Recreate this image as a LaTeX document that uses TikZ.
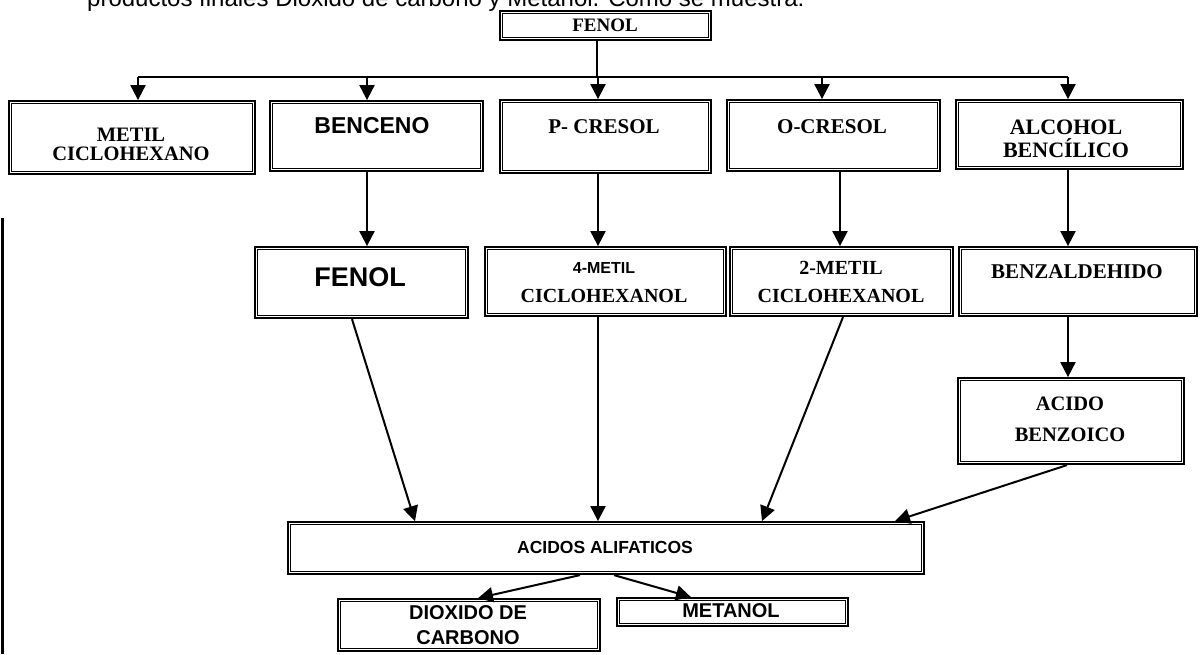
\documentclass[tikz,border=0pt]{standalone}
\usepackage{fontspec}
\setmainfont{Liberation Serif}
\newfontfamily\arialf{Liberation Sans}
\usetikzlibrary{arrows.meta}
\tikzset{
  dbox/.style={draw, line width=2.2pt, inner sep=0pt, anchor=north west},
  inbox/.style={draw, line width=1.1pt},
  ln/.style={line width=2pt},
  conn/.style={line width=2pt, -{Triangle[width=15pt,length=15pt]}},
  tms/.style={font=\fontsize{#1}{#1}\selectfont\bfseries, align=center, inner sep=0pt},
  tms/.default=20,
  ari/.style={font=\arialf\fontsize{#1}{#1}\selectfont\bfseries, align=center, inner sep=0pt},
  ari/.default=19,
}
\newcommand\mybox[5]{%
  \node[dbox, minimum width={#4pt-#2pt-2.2pt}, minimum height={#5pt-#3pt-2.2pt}] (#1) at ({#2+1.1},{#3+1.1}) {};
  \draw[inbox] ([shift={(3.6pt,-3.6pt)}]#1.north west) rectangle ([shift={(-3.6pt,3.6pt)}]#1.south east);}
\begin{document}
\begin{tikzpicture}[x=1pt,y=-1pt]
\useasboundingbox (0,0) rectangle (1200,654);
\clip (0,0) rectangle (1200,654);
\fill[white] (0,0) rectangle (1200,654);
% cut-off heading line
\node[anchor=base west, inner sep=0pt, font=\arialf\fontsize{24}{24}\selectfont] (head) at (87,6) {productos finales Dióxido de carbono y Metanol. Como se muestra:};
% left bar
\coordinate (bar1) at (2,218);
\coordinate (bar2) at (2,654);
\draw[line width=3pt] (bar1) -- (bar2);
% boxes
\mybox{t0}{498}{9}{711}{40}
\mybox{m1}{7}{99}{255}{174}
\mybox{b1}{268}{99}{483}{171}
\mybox{p1}{498}{98}{711}{173}
\mybox{o1}{725}{98}{940}{171}
\mybox{a1}{954}{98}{1183}{169}
\mybox{f2}{253}{245}{468}{318}
\mybox{m4}{483}{245}{726}{316}
\mybox{m2}{728}{245}{953}{316}
\mybox{bz}{957}{245}{1197}{316}
\mybox{ab}{956}{376}{1184}{464}
\mybox{aa}{286}{520}{924}{574}
\mybox{dc}{336}{597}{600}{651}
\mybox{me}{615}{596}{848}{626}
% labels
\node[tms=19] (lt0) at (605,25) {FENOL};
\node[tms={20}, font=\fontsize{20.5}{19}\selectfont\bfseries] (lm1) at (131,144) {METIL\\CICLOHEXANO};
\node[ari=23] (lb1) at (372,126) {BENCENO};
\node[tms=21] (lp1) at (604,127) {P- CRESOL};
\node[tms=21] (lo1) at (832,127) {O-CRESOL};
\node[tms=22, font=\fontsize{22}{23}\selectfont\bfseries] (la1) at (1066,139) {ALCOHOL\\BENCÍLICO};
\node[ari=27] (lf2) at (360,277) {FENOL};
\node[ari=16] (lm4a) at (604,268) {4-METIL};
\node[tms=20] (lm4b) at (604,296) {CICLOHEXANOL};
\node[tms=20] (lm2a) at (841,268) {2-METIL};
\node[tms=20] (lm2b) at (841,296) {CICLOHEXANOL};
\node[tms=21] (lbz) at (1077,272) {BENZALDEHIDO};
\node[tms=20, font=\fontsize{20.5}{31}\selectfont\bfseries] (lab) at (1070,419) {ACIDO\\BENZOICO};
\node[ari=17.5] (laa) at (605,547) {ACIDOS ALIFATICOS};
\node[ari=20, font=\arialf\fontsize{20}{25}\selectfont\bfseries] (ldc) at (468,625) {DIOXIDO DE\\CARBONO};
\node[ari=20] (lme) at (731,611) {METANOL};
% x positions of connectors
\coordinate (h) at (0,77);
\coordinate (xt) at (597,0);
\coordinate (xm) at (138,0);
\coordinate (xb) at (367,0);
\coordinate (xp) at (598,0);
\coordinate (xo) at (822,0);
\coordinate (xo2) at (840,0);
\coordinate (xa) at (1068,0);
\coordinate (s1) at (352,0);
\coordinate (e1) at (415,0);
\coordinate (s3) at (843,0);
\coordinate (e3) at (762,0);
\coordinate (s4) at (1067,0);
\coordinate (e4) at (895,0);
\coordinate (d1) at (580,0);
\coordinate (d2) at (478,0);
\coordinate (d3) at (614,0);
\coordinate (d4) at (691,0);
% top tree
\draw[ln] (t0.south -| xt) -- (h -| xt);
\draw[ln] (h -| xm) -- (h -| xa);
\draw[conn] (h -| xm) -- (m1.north -| xm);
\draw[conn] (h -| xb) -- (b1.north -| xb);
\draw[conn] (h -| xp) -- (p1.north -| xp);
\draw[conn] (h -| xo) -- (o1.north -| xo);
\draw[conn] (h -| xa) -- (a1.north -| xa);
% row 1 to row 2
\draw[conn] (b1.south -| xb) -- (f2.north -| xb);
\draw[conn] (p1.south -| xp) -- (m4.north -| xp);
\draw[conn] (o1.south -| xo2) -- (m2.north -| xo2);
\draw[conn] (a1.south -| xa) -- (bz.north -| xa);
\draw[conn] (bz.south -| xa) -- (ab.north -| xa);
% to acidos alifaticos
\draw[conn] (f2.south -| s1) -- (aa.north -| e1);
\draw[conn] (m4.south -| xp) -- (aa.north -| xp);
\draw[conn] (m2.south -| s3) -- (aa.north -| e3);
\draw[conn] (ab.south -| s4) -- (aa.north -| e4);
% final products
\draw[conn] (aa.south -| d1) -- (dc.north -| d2);
\draw[conn] (aa.south -| d3) -- (me.north -| d4);
\end{tikzpicture}
\end{document}
